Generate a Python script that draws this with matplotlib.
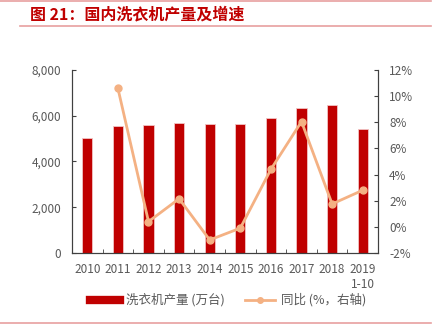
import matplotlib
matplotlib.use("Agg")
import matplotlib.pyplot as plt
import numpy as np
from matplotlib.lines import Line2D

plt.rcParams['font.family'] = ['Noto Sans CJK SC', 'DejaVu Sans']

# data
years = ['2010', '2011', '2012', '2013', '2014', '2015', '2016', '2017', '2018', '2019\n1-10']
output = [5010, 5540, 5580, 5700, 5640, 5630, 5890, 6350, 6470, 5410]   # 万台
yoy = [np.nan, 10.6, 0.4, 2.15, -1.0, -0.1, 4.4, 8.05, 1.75, 2.8]         # %

bar_color = '#C00000'
line_color = '#F4B183'
grey = '#595959'

fig = plt.figure(figsize=(4.35, 3.28), dpi=100)
ax = fig.add_axes([0.1655, 0.2287, 0.7035, 0.558])
x = np.arange(len(years))

ax.bar(x, output, 0.33, color=bar_color, edgecolor='#F2C4C4', linewidth=0.6, zorder=2)
ax.set_xlim(-0.5, len(years) - 0.5)
ax.set_ylim(0, 8000)
ax.set_yticks(range(0, 8001, 2000))
ax.set_yticklabels([f'{v:,}' for v in range(0, 8001, 2000)])
ax.set_xticks(x)
ax.set_xticklabels(years)
ax.set_xticks(np.arange(-0.5, len(years)), minor=True)
ax.tick_params(axis='x', which='major', length=0, pad=7)
ax.tick_params(axis='x', which='minor', direction='in', length=3, color='#404040')
ax.tick_params(axis='y', direction='in', length=3, color='#404040', pad=8)
ax.tick_params(labelsize=8.5, labelcolor=grey)

ax2 = ax.twinx()
ax2.plot(x, yoy, color=line_color, lw=2, marker='o', ms=5, zorder=3)
ax2.set_ylim(-2, 12)
ax2.set_yticks(range(-2, 13, 2))
ax2.set_yticklabels([f'{v}%' for v in range(-2, 13, 2)])
ax2.tick_params(axis='y', direction='in', length=3, color='#404040', pad=8,
                labelsize=8.5, labelcolor=grey)

for a in (ax, ax2):
    a.spines['top'].set_visible(False)
    for s in ('left', 'right', 'bottom'):
        a.spines[s].set_color('#404040')
        a.spines[s].set_linewidth(0.8)

handles = [Line2D([0], [0], color=bar_color, lw=6),
           Line2D([0], [0], color=line_color, lw=2, marker='o', ms=4)]
fig.legend(handles, ['洗衣机产量 (万台)', '同比 (%，右轴)'], loc='center',
           bbox_to_anchor=(0.525, 0.085), ncol=2, frameon=False, fontsize=9,
           labelcolor=grey, handlelength=2.4, handletextpad=0.5, columnspacing=1.6)

# title and decorative rules
fig.text(0.069, 0.955, '图 21：国内洗衣机产量及增速', color=bar_color, fontsize=11.5,
         fontweight='bold', va='center', ha='left')
fig.add_artist(Line2D([0.0, 0.99], [0.998, 0.998], color='#E8A0A0', lw=1.2))
fig.add_artist(Line2D([0.045, 0.99], [0.922, 0.922], color='#E8A0A0', lw=1.2))
fig.add_artist(Line2D([0.0, 0.99], [0.015, 0.015], color='#E8A0A0', lw=1.2))

fig.savefig('out.png', dpi=100, facecolor='white')
